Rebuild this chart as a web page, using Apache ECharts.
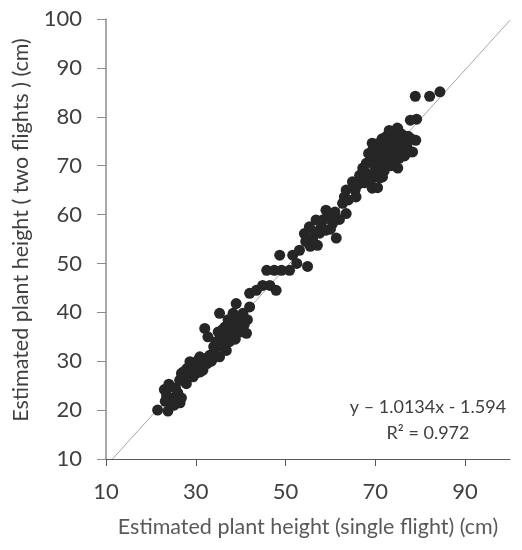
<!DOCTYPE html>
<html>
<head>
<meta charset="utf-8">
<script src="https://cdn.jsdelivr.net/npm/echarts@6/dist/echarts.min.js"></script>
<style>
html,body{margin:0;padding:0;background:#fff;}
#chart{width:522px;height:550px;}
</style>
</head>
<body>
<div id="chart"></div>
<script>
// Single-flight estimated plant height (cm)
const xSingle = [
  21.5,23.8,25.2,23.0,23.5,24.2,24.5,25.0,25.7,26.5,26.8,24.0,25.5,26.0,23.2,
  26.4,26.8,27.2,27.9,28.0,28.7,29.0,29.4,29.8,30.2,30.5,30.9,31.2,31.6,32.0,32.5,33.1,33.5,34.2,35.3,27.5,28.5,29.5,30.0,31.0,
  32.0,32.7,34.5,35.0,35.3,35.8,36.1,36.5,36.8,36.8,37.2,37.6,38.0,38.3,38.5,39.0,39.3,39.8,40.0,40.5,40.8,41.3,41.5,42.0,42.0,36.0,37.0,38.8,37.5,35.5,34.0,40.0,
  43.5,44.9,46.5,47.9,45.8,47.5,49.1,48.7,50.9,51.6,52.5,53.1,54.9,54.2,55.3,55.5,56.0,56.8,57.1,57.6,58.0,59.0,59.0,60.0,60.5,61.3,61.0,62.0,62.7,63.5,58.5,60.0,54.5,56.5,
  63.1,64.0,64.9,65.7,63.5,65.5,66.0,66.5,67.2,67.1,67.5,68.0,68.0,68.5,69.0,69.0,69.3,69.3,69.5,69.8,70.0,70.2,70.5,70.5,70.8,71.0,71.0,71.3,71.5,71.6,71.8,72.0,72.0,72.3,72.5,72.8,73.0,73.1,73.2,73.5,73.8,74.0,74.2,74.5,74.8,75.0,75.0,75.3,75.5,75.8,76.0,76.3,76.5,77.0,77.3,77.5,77.6,78.0,78.3,79.0,74.9,
  77.8,79.2,78.9,82.1,84.4
];
// Two-flight estimated plant height (cm)
const yTwo = [
  20.0,19.8,21.0,24.2,23.0,24.8,22.5,21.5,22.7,21.5,22.5,25.3,24.5,23.5,21.8,
  26.1,27.5,27.8,25.4,28.5,29.9,27.0,26.8,29.5,28.8,30.2,30.9,29.0,28.2,30.5,29.5,31.2,30.0,32.6,30.9,26.5,27.8,28.5,27.5,27.8,
  36.7,35.0,34.0,36.0,39.8,33.0,34.3,37.0,32.2,35.7,38.5,37.7,35.0,39.8,36.5,41.8,38.0,37.0,39.0,39.8,37.5,35.7,38.5,41.1,43.9,36.5,36.0,34.5,34.0,35.0,33.0,36.0,
  44.5,45.5,45.5,44.5,48.6,48.6,48.6,51.7,48.6,51.7,50.0,52.7,49.4,56.1,57.5,53.5,55.0,58.9,53.7,56.2,57.5,56.8,60.9,59.5,58.2,55.2,60.5,59.0,62.3,60.2,59.0,57.0,54.5,56.5,
  63.6,63.0,66.7,63.6,65.0,65.0,66.0,68.0,69.5,68.5,66.5,70.5,68.5,72.5,71.0,67.0,65.4,74.6,73.5,70.0,68.5,72.0,74.5,65.5,71.5,69.0,67.5,73.0,75.5,67.7,70.5,72.5,69.0,74.0,76.0,71.0,73.5,77.2,75.0,70.0,72.0,74.5,70.5,76.0,73.0,77.5,69.5,71.5,74.5,76.5,73.0,75.5,72.0,74.0,76.0,73.0,72.8,75.5,72.8,75.2,77.7,
  79.3,79.5,84.2,84.2,85.1
];
// Linear fit
const slope = 1.0134;
const intercept = -1.594;
const rSquared = 0.972;
const xTicks = [10, 30, 50, 70, 90];
const yTicks = [10, 20, 30, 40, 50, 60, 70, 80, 90, 100];
const xRange = [10, 100];
const yRange = [10, 100];

const points = xSingle.map((x, i) => [x, yTwo[i]]);
const fitStart = (yRange[0] - intercept) / slope;
const fitEnd = xRange[1];
const fitLine = [[fitStart, slope * fitStart + intercept], [fitEnd, slope * fitEnd + intercept]];

const FONT = 'Lato';
const chart = echarts.init(document.getElementById('chart'), null, {renderer: 'canvas'});
chart.setOption({
  backgroundColor: '#ffffff',
  animation: false,
  grid: {left: 106, right: 12, top: 19, bottom: 91, containLabel: false},
  xAxis: {
    type: 'value', min: xRange[0], max: xRange[1],
    name: 'Estimated plant height (single flight) (cm)',
    nameLocation: 'middle', nameGap: 57,
    nameTextStyle: {fontFamily: FONT, fontSize: 21.5, color: '#595959'},
    axisLine: {show: true, lineStyle: {color: '#595959', width: 1}},
    axisTick: {show: true, inside: false, length: 7, customValues: xTicks, lineStyle: {color: '#595959'}},
    axisLabel: {customValues: xTicks, margin: 22, fontFamily: FONT, fontSize: 22, color: '#404040'},
    splitLine: {show: false}
  },
  yAxis: {
    type: 'value', min: yRange[0], max: yRange[1], interval: 10,
    axisLine: {show: true, lineStyle: {color: '#8c8c8c', width: 1.5}},
    axisTick: {show: true, inside: false, length: 9, customValues: yTicks, lineStyle: {color: '#8c8c8c'}},
    axisLabel: {customValues: yTicks, margin: 24, fontFamily: FONT, fontSize: 22, color: '#404040'},
    splitLine: {show: false}
  },
  series: [
    {
      type: 'line', data: fitLine, symbol: 'none', silent: true, z: 1,
      lineStyle: {color: '#a6a6a6', width: 1}
    },
    {
      type: 'scatter', data: points, symbol: 'circle', symbolSize: 11, z: 2,
      itemStyle: {color: '#262626', opacity: 1}
    }
  ],
  graphic: [
    {
      type: 'text', x: 21, y: 230, rotation: Math.PI / 2,
      style: {
        text: 'Estimated plant height ( two flights ) (cm)',
        fontFamily: FONT, fontSize: 21.5, fill: '#404040', align: 'center', verticalAlign: 'middle'
      }
    },
    {
      type: 'text', x: 428, y: 407,
      style: {
        text: 'y \u2013 1.0134x - 1.594', fontFamily: FONT, fontSize: 18, fill: '#404040',
        align: 'center', verticalAlign: 'middle'
      }
    },
    {
      type: 'text', x: 428, y: 433,
      style: {
        text: 'R\u00b2 = ' + rSquared.toFixed(3), fontFamily: FONT, fontSize: 18, fill: '#404040',
        align: 'center', verticalAlign: 'middle'
      }
    }
  ]
});
</script>
</body>
</html>
